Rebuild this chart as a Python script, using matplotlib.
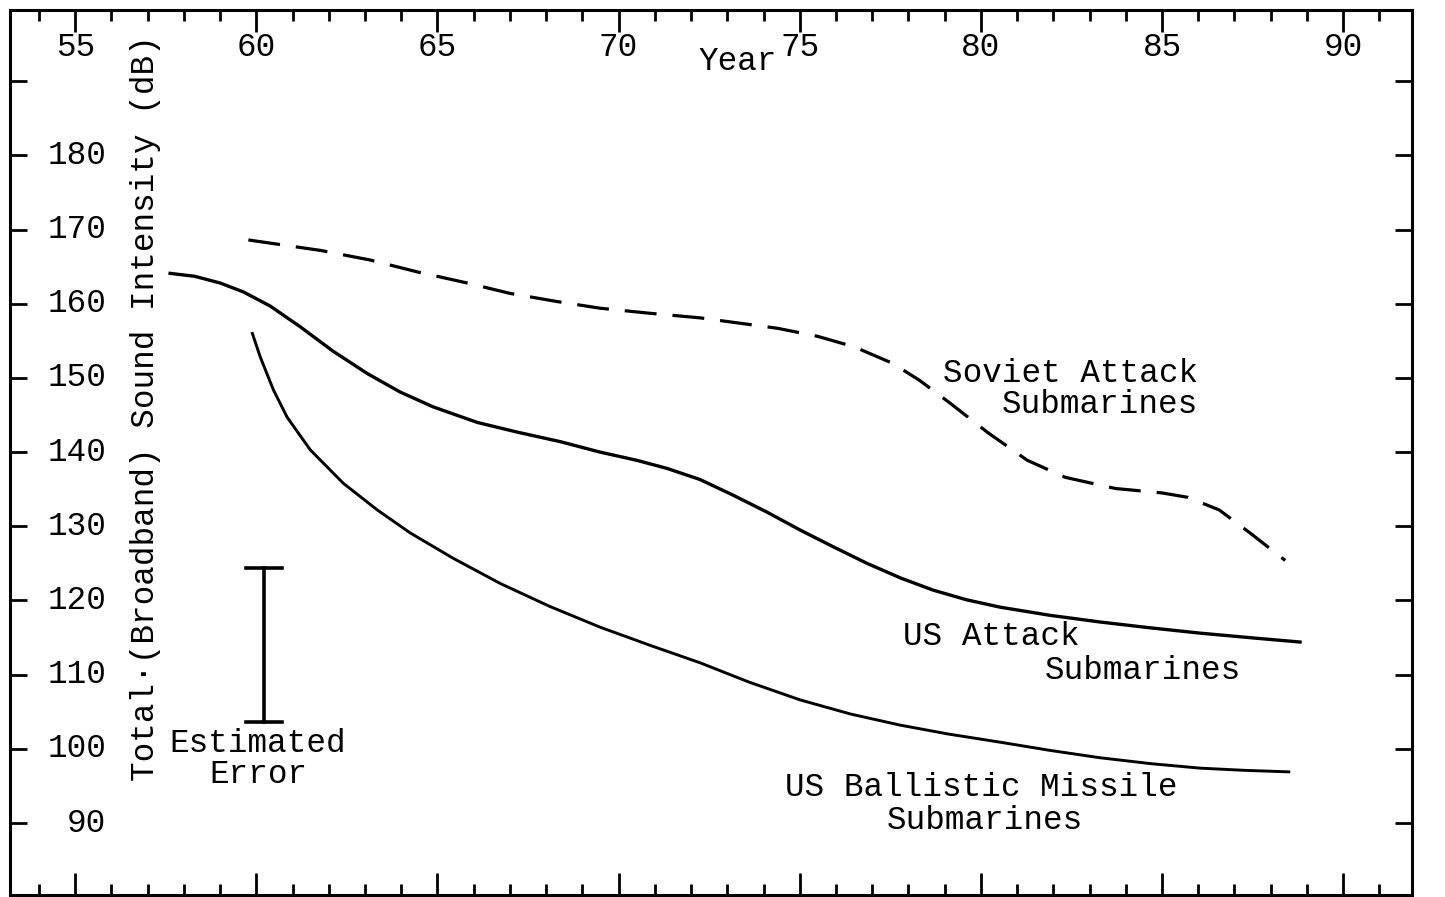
import matplotlib.pyplot as plt
from matplotlib.ticker import MultipleLocator

plt.rcParams['font.family'] = ['Liberation Mono', 'DejaVu Sans Mono']

# curves (year, dB)
soviet_x = [59.78, 61.76, 63.14, 64.44, 65.82, 67.0, 68.3, 69.49, 70.9, 72.25,
            74.38, 75.5, 76.50, 77.55, 78.30, 79.15, 80.20, 81.28, 82.33, 83.71,
            85.0, 85.72, 86.58, 87.43, 88.40]
soviet_y = [168.6, 167.2, 165.9, 164.3, 162.8, 161.4, 160.3, 159.4, 158.7, 158.1,
            156.7, 155.6, 154.2, 152.0, 149.7, 146.6, 142.6, 138.9, 136.6, 135.1,
            134.5, 133.9, 132.2, 129.1, 125.4]

us_attack_x = [57.62, 58.3, 59.0, 59.64, 60.38, 61.21, 62.12, 63.06, 63.97, 64.88, 66.10,
               67.20, 68.4, 69.49, 70.5, 71.34, 72.25, 73.16, 74.1, 75.01, 75.9,
               76.86, 77.8, 78.68, 79.6, 80.53, 81.91, 83.29, 84.7, 86.05, 87.4, 88.81]
us_attack_y = [164.1, 163.7, 162.8, 161.6, 159.7, 156.9, 153.6, 150.6, 148.1, 146.1, 144.0,
               142.7, 141.4, 140.0, 138.9, 137.8, 136.3, 134.2, 131.9, 129.5, 127.3,
               125.0, 123.0, 121.4, 120.1, 119.1, 118.0, 117.1, 116.3, 115.6, 115.0, 114.4]

ballistic_x = [59.89, 60.11, 60.47, 60.85, 61.49, 62.40, 63.34, 64.25, 65.43, 66.73,
               68.1, 69.49, 70.9, 72.25, 73.6, 75.01, 76.4, 77.77, 79.1, 80.53,
               81.9, 83.29, 84.7, 86.05, 87.3, 88.5]
ballistic_y = [156.0, 152.8, 148.4, 144.7, 140.3, 135.8, 132.2, 129.1, 125.7, 122.3,
               119.2, 116.4, 113.9, 111.6, 109.0, 106.6, 104.7, 103.2, 102.0, 100.9,
               99.8, 98.8, 98.0, 97.4, 97.1, 96.9]

# estimated error bar
err_x = 60.22
err_lo, err_hi = 103.6, 124.4

year_ticks = [55, 60, 65, 70, 75, 80, 85, 90]
db_ticks = [90, 100, 110, 120, 130, 140, 150, 160, 170, 180]
fs = 23.5

fig = plt.figure(figsize=(14.45, 8.97), dpi=100)
ax = fig.add_axes([10 / 1445, 2 / 897, 1402 / 1445, 885 / 897])
ax.set_xlim(53.2, 91.9)
ax.set_ylim(80.3, 199.6)

ax.plot(soviet_x, soviet_y, color='black', lw=2.3, dashes=(10, 5), dash_capstyle='butt')
ax.plot(us_attack_x, us_attack_y, color='black', lw=2.4, solid_joinstyle='round')
ax.plot(ballistic_x, ballistic_y, color='black', lw=2.1, solid_joinstyle='round')
ax.plot([err_x, err_x], [err_lo, err_hi], color='black', lw=2.6)
ax.plot([err_x - 0.5, err_x + 0.5], [err_hi, err_hi], color='black', lw=2.6)
ax.plot([err_x - 0.5, err_x + 0.5], [err_lo, err_lo], color='black', lw=2.6)

# ticks inside on all four sides
ax.xaxis.set_major_locator(MultipleLocator(5))
ax.xaxis.set_minor_locator(MultipleLocator(1))
ax.set_yticks(list(range(90, 200, 10)))
ax.tick_params(axis='x', which='major', direction='in', length=16, width=2,
               top=True, bottom=True, labelbottom=False)
ax.tick_params(axis='x', which='minor', direction='in', length=8, width=2,
               top=True, bottom=True)
ax.tick_params(axis='y', which='major', direction='in', length=12, width=2,
               left=True, right=True, labelleft=False)
for s in ax.spines.values():
    s.set_linewidth(2.2)

for yr in year_ticks:
    ax.text(yr, 194.6, str(yr), ha='center', va='center', fontsize=fs)
for db in db_ticks:
    ax.text(55.85, db, str(db), ha='right', va='center', fontsize=fs)

ax.text(73.3, 192.6, 'Year', ha='center', va='center', fontsize=fs)
ax.text(56.93, 145.9, 'Total\u00b7(Broadband) Sound Intensity (dB)', rotation=90,
        ha='center', va='center', fontsize=fs)

ax.text(86.0, 148.5, 'Soviet Attack\nSubmarines', ha='right', va='center',
        multialignment='right', fontsize=fs, linespacing=1.0)
ax.text(77.85, 115.1, 'US Attack', ha='left', va='center', fontsize=fs)
ax.text(81.77, 110.6, 'Submarines', ha='left', va='center', fontsize=fs)
ax.text(74.6, 94.85, 'US Ballistic Missile', ha='left', va='center', fontsize=fs)
ax.text(80.12, 90.4, 'Submarines', ha='center', va='center', fontsize=fs)
ax.text(60.05, 98.7, 'Estimated\nError', ha='center', va='center',
        multialignment='center', fontsize=fs, linespacing=1.0)

plt.savefig('out.png', dpi=100)
